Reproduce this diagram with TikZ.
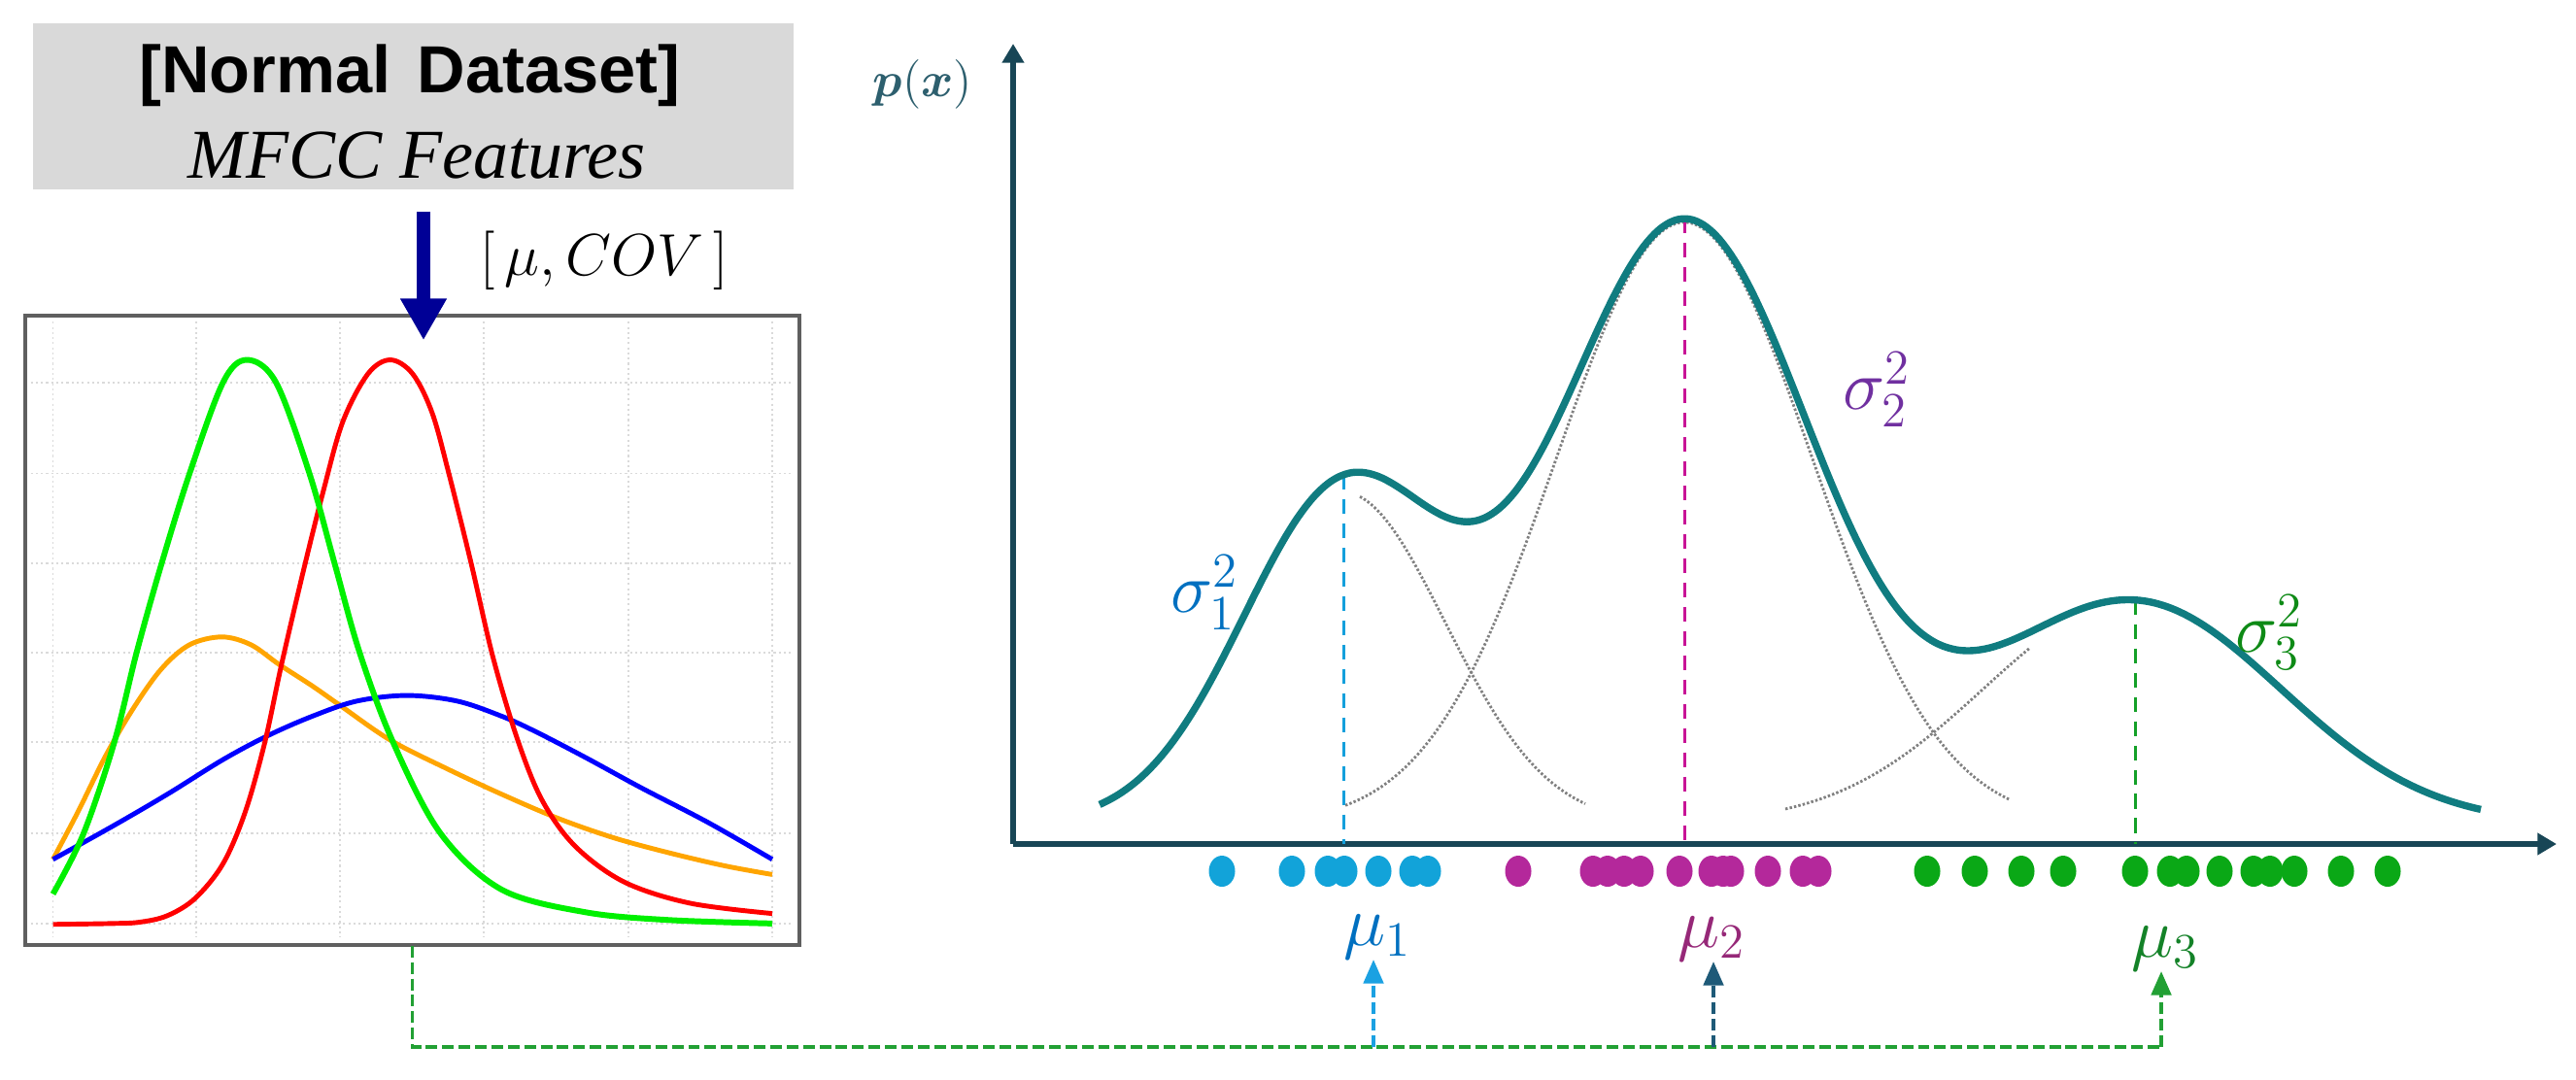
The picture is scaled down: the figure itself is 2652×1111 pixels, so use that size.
\documentclass[tikz,border=0pt]{standalone}
\usepackage{bm}
\usepackage{fontspec}
\newfontfamily\hdfont{Liberation Sans}
\newfontfamily\itfont{Liberation Serif}
\usetikzlibrary{arrows.meta,calc}
\definecolor{boxgray}{RGB}{217,217,217}
\definecolor{chartedge}{RGB}{95,95,95}
\definecolor{gridgray}{RGB}{218,218,218}
\definecolor{navyarr}{RGB}{0,0,150}
\definecolor{axiscol}{RGB}{24,70,86}
\definecolor{pxcol}{RGB}{45,95,110}
\definecolor{tealc}{RGB}{16,124,128}
\definecolor{sigA}{RGB}{0,112,192}
\definecolor{sigB}{RGB}{112,48,160}
\definecolor{sigC}{RGB}{14,138,22}
\definecolor{muA}{RGB}{0,112,192}
\definecolor{muB}{RGB}{150,40,120}
\definecolor{muC}{RGB}{20,130,40}
\definecolor{dotA}{RGB}{18,163,217}
\definecolor{dotB}{RGB}{180,40,155}
\definecolor{dotC}{RGB}{10,168,22}
\definecolor{vlA}{RGB}{20,160,220}
\definecolor{vlB}{RGB}{200,20,150}
\definecolor{vlC}{RGB}{20,160,40}
\definecolor{connG}{RGB}{34,160,52}
\definecolor{connB}{RGB}{27,161,226}
\definecolor{connT}{RGB}{30,90,120}
\definecolor{lgreen}{RGB}{0,240,0}
\definecolor{lred}{RGB}{255,0,0}
\definecolor{lorange}{RGB}{255,165,0}
\definecolor{lblue}{RGB}{0,0,255}
\begin{document}
\begin{tikzpicture}[x=0.01cm,y=-0.01cm,
  declare function={
    gss(\va,\vb,\vc)=exp(-min((\va-\vb)*(\va-\vb)/(2*\vc*\vc),15));
    mixc(\va)=848-341*gss(\va,13.83,1.05)-619*gss(\va,17.34,1.32)-229*gss(\va,21.95,1.53);
  },
  titlebox/.style={fill=boxgray, minimum width=7.83cm, minimum height=1.71cm, inner sep=0pt},
  chartbox/.style={draw=chartedge, fill=white, line width=0.9pt, minimum width=7.95cm, minimum height=6.46cm, inner sep=0pt},
  gridl/.style={line width=0.5pt, draw=gridgray, dash pattern=on 0.6pt off 0.9pt},
  ccurve/.style={line width=1.4pt},
  axisl/.style={line width=1.8pt, draw=axiscol, -{Triangle[width=6.2pt,length=5.6pt]}},
  maincurve/.style={line width=2.1pt, draw=tealc},
  compc/.style={line width=0.8pt, draw=black!50, dash pattern=on 0.7pt off 0.6pt},
  vdash/.style={line width=0.85pt, dash pattern=on 4.3pt off 2.8pt},
  conn/.style={line width=1.1pt, dash pattern=on 3.4pt off 1.4pt},
  uparrow/.style={-{Triangle[width=5.8pt,length=7pt]}},
  lbl/.style={inner sep=0pt},
  bigarrow/.style={line width=4pt, draw=navyarr, -{Triangle[width=12.8pt,length=12.2pt]}}
]
\useasboundingbox (0,0) rectangle (2652,1111);

% ---------- title box ----------
\node[titlebox] (title) at (425.5,109.5) {};
\node[lbl, anchor=base] (tline1) at (422,95) {\hdfont\bfseries\fontsize{19.5}{23}\selectfont [Normal\hspace{0.4em}Dataset]};
\node[lbl, anchor=base] (tline2) at (429,183) {\itfont\itshape\fontsize{20.5}{24}\selectfont MFCC Features};

% ---------- chart box ----------
\node[chartbox] (chart) at (424.5,649) {};
\begin{scope}[shift={(0,300)},xscale=0.574,yscale=0.4464]
  \foreach \gx in {95,352,610,868,1127,1385} \draw[gridl] (\gx,70) -- (\gx,1490);
  \foreach \gy in {210,420,627,833,1040,1250,1458} \draw[gridl] (55,\gy) -- (1420,\gy);
  % orange
  \draw[ccurve, draw=lorange] plot[smooth, tension=0.55] coordinates {
    (95,1310) (140,1200) (190,1070) (240,960) (290,870) (340,815) (398,797) (450,815)
    (500,860) (560,910) (610,955) (700,1035) (800,1100) (900,1160) (1000,1215)
    (1100,1260) (1200,1295) (1300,1325) (1385,1345)};
  % blue
  \draw[ccurve, draw=lblue] plot[smooth, tension=0.55] coordinates {
    (95,1310) (200,1235) (300,1160) (400,1080) (480,1025) (560,980) (640,945) (730,932)
    (820,945) (900,980) (960,1015) (1050,1075) (1150,1145) (1270,1225) (1385,1310)};
  % red
  \draw[ccurve, draw=lred] plot[smooth, tension=0.55] coordinates {
    (95,1460) (200,1458) (250,1455) (300,1440) (350,1400) (400,1320) (440,1200) (475,1040)
    (505,860) (545,640) (580,460) (615,300) (660,190) (700,158) (740,190) (775,280)
    (805,420) (845,627) (884,843) (928,1033) (972,1173) (1031,1279) (1119,1362)
    (1237,1411) (1385,1435)};
  % green
  \draw[line width=1.7pt, draw=lgreen] plot[smooth, tension=0.55] coordinates {
    (95,1390) (150,1250) (205,1040) (245,833) (290,627) (340,420) (400,210) (443,158)
    (495,210) (555,420) (600,627) (645,833) (705,1040) (790,1250) (900,1380)
    (1050,1432) (1200,1450) (1385,1458)};
\end{scope}
\draw[line width=0.9pt, draw=chartedge] (chart.south west) rectangle (chart.north east);

% ---------- arrow from title to chart ----------
\draw[bigarrow] ($(title.south)+(10.5,22)$) -- ($(chart.north)+(11.5,26)$);
\node[lbl, anchor=base] (muCOV) at (622,283) {\fontsize{18.5}{22}\selectfont $[\,\mu, COV\,]$};

% ---------- right plot ----------
\coordinate (origin) at (1043,869);
\draw[axisl] (origin) -- (1043,45);
\draw[axisl] (origin) -- (2632,869);
\node[lbl, text=pxcol] (plabel) at (950,87) {\fontsize{14}{16}\selectfont $\bm{p}(\bm{x})$};

% gray component curves
\draw[compc] plot[domain=1400:1632,samples=60,smooth] (\x,{848-341*gss(\x/100,13.83,1.05)});
\draw[compc] plot[domain=1385:2070,samples=120,smooth] (\x,{848-619*gss(\x/100,17.34,1.32)});
\draw[compc] plot[domain=1838:2090,samples=60,smooth] (\x,{848-229*gss(\x/100,21.95,1.53)});

% dashed mean lines
\draw[vdash, draw=vlA] (1383,{mixc(13.83)}) -- (1383,869);
\draw[vdash, draw=vlB] (1734,{mixc(17.34)}) -- (1734,869);
\draw[vdash, draw=vlC] (2198,{mixc(21.98)}) -- (2198,869);

% mixture curve
\draw[maincurve] plot[domain=1132:2554,samples=240,smooth] (\x,{mixc(\x/100)});

% sigma labels
\node[lbl, text=sigA] (s1) at (1240,610) {\fontsize{20}{23}\selectfont $\sigma_1^2$};
\node[lbl, text=sigB] (s2) at (1932,401) {\fontsize{20}{23}\selectfont $\sigma_2^2$};
\node[lbl, text=sigC] (s3) at (2336,651) {\fontsize{20}{23}\selectfont $\sigma_3^2$};

% data dots
\foreach \d in {1258,1330,1367,1384,1419,1454,1470}
  \fill[dotA] (\d,897) ellipse[x radius=13.5,y radius=16];
\foreach \d in {1563,1640,1655,1672,1689,1729,1762,1774,1782,1820,1856,1872}
  \fill[dotB] (\d,897) ellipse[x radius=13.5,y radius=16];
\foreach \d in {1984,2033,2081,2124,2198,2234,2251,2285,2320,2337,2362,2410,2458}
  \fill[dotC] (\d,897) ellipse[x radius=13.5,y radius=16];

% mu labels
\node[lbl, anchor=south, text=muA] (mu1) at (1418,988) {\fontsize{21}{24}\selectfont $\mu_1$};
\node[lbl, anchor=south, text=muB] (mu2) at (1762,990) {\fontsize{21}{24}\selectfont $\mu_2$};
\node[lbl, anchor=south, text=muC] (mu3) at (2229,1000) {\fontsize{21}{24}\selectfont $\mu_3$};

% ---------- connectors ----------
\coordinate (j1) at (1414,1078);
\coordinate (j2) at (1764,1078);
\coordinate (j3) at (2225,1078);
\draw[conn, draw=connG] (chart.south) |- (j3);
\draw[conn, draw=connG, uparrow] (j3) -- (j3 |- mu3.south);
\draw[conn, draw=connB, uparrow] (j1) -- (j1 |- mu1.south);
\draw[conn, draw=connT, uparrow] (j2) -- (j2 |- mu2.south);
\end{tikzpicture}
\end{document}
